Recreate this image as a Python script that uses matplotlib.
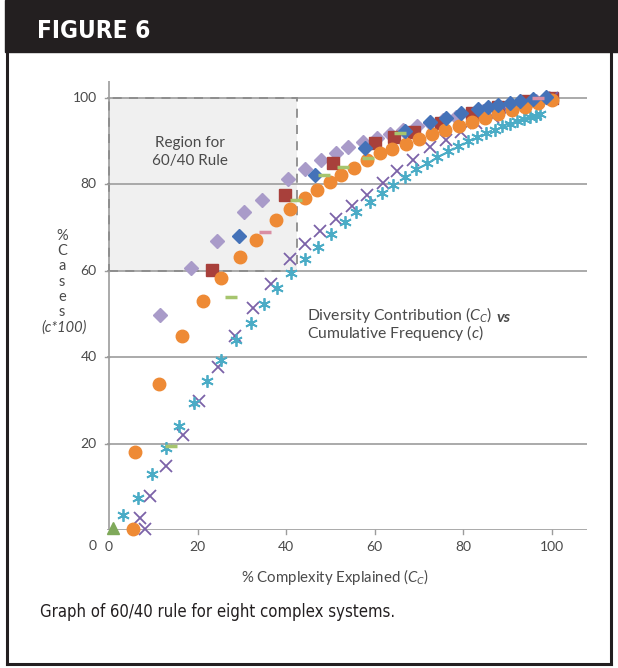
import matplotlib
matplotlib.use('Agg')
import matplotlib.pyplot as plt
from matplotlib import font_manager as fm
from matplotlib.patches import Rectangle

# ---- data (x = % complexity explained, y = % cases) ----
lav_x = [11.5, 18.6, 24.3, 30.5, 34.5, 40.4, 44.2, 48.0, 51.4, 54.0, 57.4, 60.5, 63.5,
         66.5, 69.5, 72.5, 75.5, 78.5, 81.5, 84.5, 87.5, 90.5, 93.5, 96.5, 99.5]
lav_y = [49.8, 60.6, 67.0, 73.6, 76.4, 81.2, 83.6, 85.6, 87.3, 88.7, 89.8, 90.8, 91.7,
         92.6, 93.4, 94.2, 95.0, 95.7, 96.4, 97.0, 97.6, 98.2, 98.8, 99.4, 100.0]

blue_x = [29.3, 46.5, 57.8, 66.8, 72.5, 76.2, 79.6, 83.3, 85.6, 87.8, 90.5, 92.8, 95.7, 98.8]
blue_y = [68.1, 82.2, 88.4, 92.4, 94.4, 95.4, 96.5, 97.4, 98.0, 98.4, 98.9, 99.3, 99.8, 100.2]

red_x = [23.2, 39.7, 50.6, 60.0, 64.5, 69.0, 75.0, 82.0, 88.0, 94.0, 100.0]
red_y = [60.2, 77.5, 84.9, 89.6, 91.0, 92.2, 94.2, 96.5, 98.0, 99.2, 100.0]

orange_x = [5.5, 5.9, 11.4, 16.4, 21.3, 25.4, 29.7, 33.3, 37.8, 41.0, 44.2, 47.1, 49.9,
            52.5, 55.3, 58.3, 61.2, 64.0, 67.0, 70.0, 73.0, 76.0, 79.0, 82.0, 85.0,
            88.0, 91.0, 94.0, 97.0, 100.0]
orange_y = [0.2, 18.0, 33.7, 44.8, 53.0, 58.3, 63.3, 67.1, 71.8, 74.3, 76.8, 78.7, 80.6,
            82.2, 83.7, 85.6, 87.2, 88.3, 89.4, 90.5, 91.6, 92.6, 93.6, 94.5, 95.4,
            96.3, 97.2, 98.0, 98.8, 99.6]

purple_x = [7.1, 8.1, 9.3, 12.9, 16.8, 20.4, 24.7, 28.4, 32.6, 36.7, 41.0, 44.2, 47.6,
            51.2, 54.8, 58.2, 61.8, 65.0, 68.6, 72.5, 76.2, 79.6, 83.0, 86.7, 90.0,
            93.5, 97.0, 100.0]
purple_y = [2.7, 0.2, 7.9, 14.8, 22.0, 29.9, 37.7, 44.8, 51.5, 56.9, 62.7, 66.2, 69.1,
            72.1, 74.9, 77.5, 80.4, 83.2, 85.6, 88.7, 90.3, 92.2, 94.1, 95.7, 97.0,
            98.3, 99.3, 100.0]

teal_x = [3.2, 6.6, 9.6, 12.9, 15.9, 19.3, 22.2, 25.4, 28.7, 32.0, 35.0, 38.0, 41.2,
          44.2, 47.2, 50.2, 53.3, 55.9, 58.9, 61.6, 64.2, 66.8, 69.3, 71.8, 74.2,
          76.6, 78.9, 81.1, 83.2, 85.2, 87.1, 88.9, 90.6, 92.2, 93.7, 95.1, 96.4, 97.4]
teal_y = [3.5, 7.3, 13.0, 18.9, 24.0, 29.3, 34.6, 39.4, 44.0, 48.0, 52.3, 56.0, 59.4,
          62.7, 65.4, 68.5, 71.4, 73.5, 75.9, 78.0, 79.9, 81.8, 83.5, 85.0, 86.4,
          87.7, 88.9, 90.0, 91.0, 91.9, 92.7, 93.4, 94.0, 94.6, 95.1, 95.5, 95.9, 96.2]

green_x = [14.1, 27.5, 42.3, 48.6, 52.9, 58.5, 65.7]
green_y = [19.5, 54.0, 76.5, 82.2, 84.0, 86.0, 91.9]

pink_x = [35.2, 97.0]
pink_y = [69.0, 100.0]

tri_x = [1.0]
tri_y = [0.4]

ticks = [0, 20, 40, 60, 80, 100]
caption = 'Graph of 60/40 rule for eight complex systems.'


def narrow_font(bold=False):
    # look for an installed condensed / narrow face, else plain DejaVu Sans
    want = 'bold' if bold else 'normal'
    for f in fm.fontManager.ttflist:
        is_bold = f.weight in ('bold', 700, 'heavy', 800, 900) or \
            (isinstance(f.weight, int) and f.weight >= 700)
        if ('Narrow' in f.name or 'Condensed' in f.name or
                f.stretch in ('condensed', 'semi-condensed', 400)) \
                and f.style == 'normal' and (is_bold == bold):
            return fm.FontProperties(fname=f.fname), True
    return fm.FontProperties(family='DejaVu Sans', weight=want), False


W, H = 618, 668
plt.rcParams['mathtext.fontset'] = 'custom'
plt.rcParams['mathtext.rm'] = 'Lato'
plt.rcParams['mathtext.it'] = 'Lato:italic'

fig = plt.figure(figsize=(W / 100, H / 100), dpi=100)
fig.patch.set_facecolor('white')


def fx(px):
    return px / W


def fy(py):
    return 1 - py / H


# header bar and frame
fig.patches.append(Rectangle((fx(5), fy(52)), fx(W - 5), 52 / H,
                             transform=fig.transFigure, color='#231f20', zorder=0))
frame_kw = dict(transform=fig.transFigure, color='#231f20', lw=2.2)
fig.add_artist(plt.Line2D([fx(7), fx(7)], [fy(52), fy(664)], **frame_kw))
fig.add_artist(plt.Line2D([fx(7), fx(611)], [fy(664), fy(664)], **frame_kw))
fig.add_artist(plt.Line2D([fx(611), fx(611)], [fy(52), fy(664)], **frame_kw))

head_fp, head_narrow = narrow_font(bold=True)
head_fp = head_fp.copy()
head_fp.set_size(17.5 if head_narrow else 15)
if not head_narrow:
    head_fp.set_weight('bold')
fig.text(fx(37), fy(31), 'FIGURE 6', color='white', fontproperties=head_fp,
         va='center', ha='left')

# plot area
ax = fig.add_axes([fx(106.8), fy(530), fx(480.2), 449.3 / H])
ax.set_xlim(-0.5, 108)
ax.set_ylim(0, 104)
for s in ax.spines.values():
    s.set_visible(False)
ax.set_xticks([])
ax.set_yticks([])

grid_c = '#9c9c9c'
for t in ticks:
    ax.axhline(t, color=grid_c, lw=1.2, zorder=1)
ax.axvline(0, color=grid_c, lw=1.2, zorder=1)
for t in ticks[1:]:
    ax.plot([t, t], [0, -1.0], color=grid_c, lw=1.0, clip_on=False)
    ax.plot([0, -1.0], [t, t], color=grid_c, lw=1.0, clip_on=False)

# 60/40 region
ax.add_patch(Rectangle((0, 60), 42.5, 40, facecolor='#f0f0f0', edgecolor='none', zorder=0))
ax.add_patch(Rectangle((0, 60), 42.5, 40, facecolor='none', edgecolor='#8c8c8c',
                       lw=1.3, ls=(0, (5, 4)), zorder=1.5))

mk = dict(ls='none', clip_on=False, zorder=3)
ax.plot(lav_x, lav_y, marker='D', ms=7.5, color='#a99bc9', mec='#a99bc9', **mk)
ax.plot(red_x, red_y, marker='s', ms=8.5, color='#a8403b', mec='#a8403b', **mk)
ax.plot(purple_x, purple_y, marker='x', ms=9, mew=1.3, color='#7b62a8', **mk)
ax.plot(teal_x, teal_y, marker=(6, 2, 0), ms=9, mew=1.3, color='#4bacc6', **mk)
ax.plot(orange_x, orange_y, marker='o', ms=9, color='#ee8a35', mec='#ee8a35', **mk)
ax.plot(blue_x, blue_y, marker='D', ms=7.5, color='#4472b8', mec='#4472b8', **mk)
ax.plot(green_x, green_y, marker='_', ms=9, mew=2.5, color='#a6c56e', **mk)
ax.plot(pink_x, pink_y, marker='_', ms=9, mew=2.5, color='#d98ea3', **mk)
ax.plot(tri_x, tri_y, marker='^', ms=9, color='#7fa95a', mec='#7fa95a', **mk)

txt_c = '#4a4a4a'
font = 'Lato'
ax.text(18.3, 87.5, 'Region for\n60/40 Rule', ha='center', va='center', fontsize=11,
        color=txt_c, family=font, linespacing=1.3, zorder=4)
t1 = ax.text(44.7, 48.6, r'Diversity Contribution ($C_C$)', ha='left', va='baseline',
             fontsize=11.3, color=txt_c, family=font, zorder=4)
ax.annotate('vs', xy=(1, 0), xycoords=t1, xytext=(3, 0), textcoords='offset points',
            ha='left', va='bottom', fontsize=11.3, color=txt_c, family=font,
            fontweight='bold', style='italic')
ax.text(44.7, 44.4, r'Cumulative Frequency ($c$)', ha='left', va='baseline',
        fontsize=11.3, color=txt_c, family=font, zorder=4)

# tick labels
for t in ticks:
    ax.text(t, -3.9, str(t), ha='center', va='center', fontsize=10, color=txt_c, family=font)
for t in ticks[1:]:
    ax.text(-2.8, t, str(t), ha='right', va='center', fontsize=10, color=txt_c, family=font)
fig.text(fx(93), fy(546), '0', ha='center', va='center', fontsize=10, color=txt_c, family=font)

# axis titles
fig.text(fx(335), fy(577), r'% Complexity Explained ($C_C$)', ha='center', va='center',
         fontsize=10.8, color=txt_c, family=font)
fig.text(fx(62), fy(274), '%\nC\na\ns\ne\ns', ha='center', va='center', fontsize=10.5,
         color=txt_c, family=font, linespacing=1.12)
fig.text(fx(64), fy(328), '(c*100)', ha='center', va='center', fontsize=10.5,
         color=txt_c, family=font, style='italic')

cap_fp, cap_narrow = narrow_font(bold=False)
cap_fp = cap_fp.copy()
cap_fp.set_size(12 if cap_narrow else 10.5)
fig.text(fx(40), fy(612), caption, ha='left', va='center', color='#231f20',
         fontproperties=cap_fp)

fig.savefig('out.png', dpi=100, facecolor='white')
